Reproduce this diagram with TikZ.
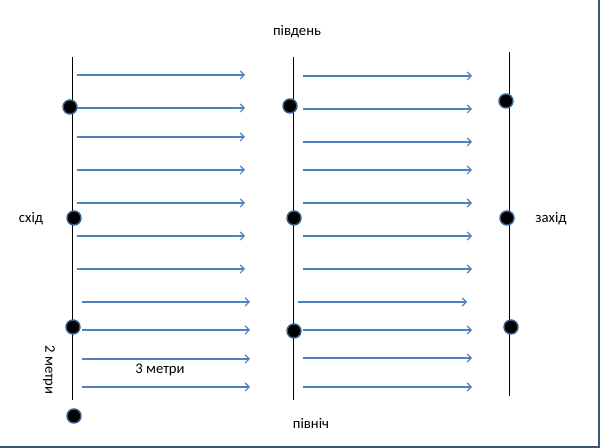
\documentclass[tikz,border=0pt]{standalone}
\usepackage{fontspec}
\setmainfont{Carlito}
\usetikzlibrary{arrows.meta}
\definecolor{arrowblue}{HTML}{4F81BD}
\definecolor{dotedge}{HTML}{385D8A}
\definecolor{frame}{HTML}{3F5678}
\tikzset{
  flow/.style={draw=arrowblue, line width=0.85pt, -{Straight Barb[length=3pt,width=6pt]}},
  axis/.style={draw=black, line width=0.7pt},
  dot/.style={circle, fill=black, draw=dotedge, line width=1.1pt, inner sep=0pt, minimum size=10.5pt},
  lbl/.style={font=\fontsize{11pt}{13pt}\selectfont, inner sep=0pt}
}
\begin{document}
\begin{tikzpicture}[x=0.75pt,y=-0.75pt]
\useasboundingbox (0,0) rectangle (600,448);
\fill[white] (0,0) rectangle (600,448);
\draw[frame, line width=1.5pt] (599,0) -- (599,447) -- (0,447);
% vertical lines
\coordinate (l1t) at (72,57); \coordinate (l1b) at (72,400);
\coordinate (l2t) at (293,57); \coordinate (l2b) at (293,400);
\coordinate (l3t) at (509,52); \coordinate (l3b) at (509,396);
\draw[axis] (l1t) -- (l1b);
\draw[axis] (l2t) -- (l2b);
\draw[axis] (l3t) -- (l3b);
% column 1 arrows
\foreach \y [count=\i] in {75,108,137,170,203,236,269} {
  \coordinate (a\i s) at (77,\y); \coordinate (a\i e) at (245,\y);
  \draw[flow] (a\i s) -- (a\i e);
}
\foreach \y [count=\i] in {302,330,359,387} {
  \coordinate (c\i s) at (82,\y); \coordinate (c\i e) at (250,\y);
  \draw[flow] (c\i s) -- (c\i e);
}
% column 2 arrows
\foreach \y [count=\i] in {76,109,142,170,203,236,269,330,358,387} {
  \coordinate (b\i s) at (303,\y); \coordinate (b\i e) at (472,\y);
  \draw[flow] (b\i s) -- (b\i e);
}
\coordinate (d1s) at (298,302); \coordinate (d1e) at (467,302);
\draw[flow] (d1s) -- (d1e);
% dots
\node[dot] (p1) at (70,107) {};
\node[dot] (p2) at (74,218) {};
\node[dot] (p3) at (73,327) {};
\node[dot] (p4) at (74,416) {};
\node[dot] (q1) at (290,106) {};
\node[dot] (q2) at (294,218) {};
\node[dot] (q3) at (294,331) {};
\node[dot] (r1) at (506,101) {};
\node[dot] (r2) at (507,218) {};
\node[dot] (r3) at (511,327) {};
% labels
\node[lbl] (south) at (297,32) {південь};
\node[lbl] (east) at (31,219) {схід};
\node[lbl] (west) at (551,219) {захід};
\node[lbl] (north) at (311,423) {північ};
\node[lbl] (three) at (160,370) {3 метри};
\node[lbl, rotate=-90] (two) at (49,370) {2 метри};
\end{tikzpicture}
\end{document}
